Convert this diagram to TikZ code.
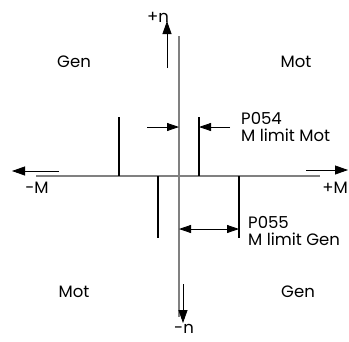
\documentclass[tikz,border=0pt]{standalone}
\usepackage{fontspec}
\setmainfont{Poppins}
\usetikzlibrary{arrows.meta}
\definecolor{axisgray}{RGB}{128,128,128}

\begin{document}
\begin{tikzpicture}[x=1pt, y=-1pt, font=\fontsize{16.5}{17}\selectfont,
  axis/.style={axisgray, line width=1.2pt},
  limitbar/.style={black, line width=1.6pt},
  dirarrow/.style={-{Triangle[length=13pt, width=9pt]}, line width=0.8pt},
  dimarrow/.style={-{Triangle[length=12pt, width=8pt]}, line width=0.8pt},
  lbl/.style={anchor=west, inner sep=0pt}]
  \useasboundingbox (0,0) rectangle (349,341);

  % Achsen (grau)
  \draw[axis] (36,176) -- (320,176);
  \draw[axis] (179,36) -- (179,317);
  \coordinate (O) at (179,176);

  % Richtungspfeile
  \draw[dirarrow] (167,68) -- (167,21);
  \draw[dirarrow] (183,284) -- (183,323);
  \draw[dirarrow] (59,171) -- (12,171);
  \draw[dirarrow] (306,170) -- (348,170);
  \node (np) at (158,17) {+n};
  \node (nm) [anchor=north, inner sep=0pt] at (184,324) {-n};
  \node (mm) at (37,188) {-M};
  \node (mp) at (335,188) {+M};

  % Grenzen
  \draw[limitbar] (119,117) -- (119,176);
  \draw[limitbar] (199,117) -- (199,176);
  \draw[limitbar] (158,176) -- (158,238);
  \draw[limitbar] (239,176) -- (239,238);

  % P054
  \draw[dimarrow] (147,127) -- (179,127);
  \draw[dimarrow] (230,127) -- (199,127);
  \node (p054) [lbl] at (241,118) {P054};
  \node (p054txt) [lbl] at (241,135) {M limit Mot};

  % P055
  \draw[dimarrow, {Triangle[length=12pt, width=8pt]}-{Triangle[length=12pt, width=8pt]}] (179,229) -- (239,229);
  \node (p055) [lbl] at (248,222) {P055};
  \node (p055txt) [lbl] at (248,239) {M limit Gen};

  % Quadranten
  \node (q2) at (74,62) {Gen};
  \node (q1) at (296,62) {Mot};
  \node (q3) at (74,292) {Mot};
  \node (q4) at (298,292) {Gen};
\end{tikzpicture}
\end{document}
